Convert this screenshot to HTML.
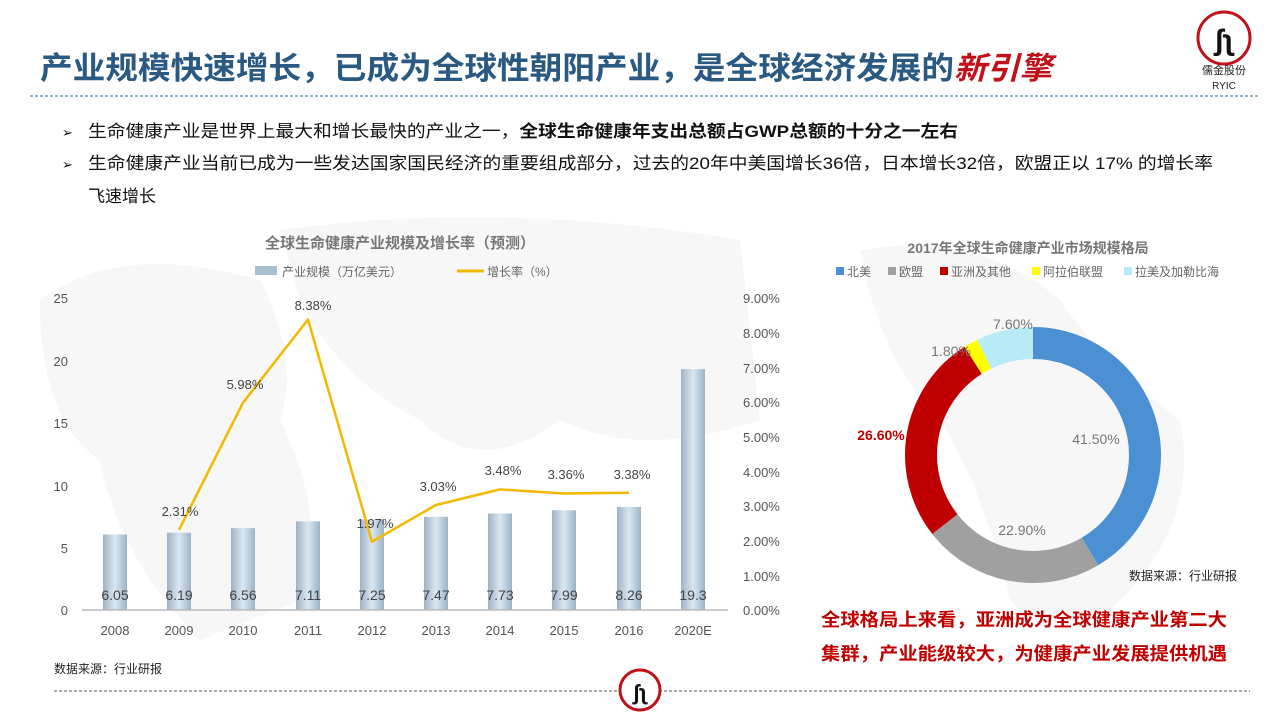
<!DOCTYPE html>
<html><head><meta charset="utf-8"><style>
body{margin:0;background:#fff;}
svg{display:block;font-family:"Liberation Sans","Noto Sans CJK SC",sans-serif;}
</style></head><body>
<svg width="1280" height="720" viewBox="0 0 1280 720">
<g fill="#f7f7f7">
<path d="M40 300 Q120 240 260 280 Q300 360 280 420 Q330 520 300 600 L200 640 Q120 560 100 460 Q40 420 40 300Z"/>
<path d="M280 230 Q500 200 740 240 L760 420 Q640 460 560 420 Q480 480 420 420 Q340 380 300 300Z"/>
<path d="M860 250 Q980 230 1060 300 Q1100 360 1180 420 Q1200 520 1120 600 Q1060 660 1010 600 Q980 480 940 420 Q880 360 860 250Z"/>
</g>
<text x="40" y="79" font-size="31" font-weight="bold" fill="#2a5a82" textLength="1012" lengthAdjust="spacingAndGlyphs">产业规模快速增长，已成为全球性朝阳产业，是全球经济发展的<tspan fill="#c0101a" font-style="italic">新引擎</tspan></text>
<line x1="30" y1="96" x2="1258" y2="96" stroke="#5a8aa8" stroke-width="1.2" stroke-dasharray="3,2"/>
<circle cx="1224" cy="38" r="26" fill="none" stroke="#c0101a" stroke-width="3"/>
<text x="1224" y="50" font-size="30" text-anchor="middle" fill="#111" font-weight="bold">ʃʅ</text>
<text x="1224" y="74" font-size="11" text-anchor="middle" fill="#222">儒金股份</text>
<text x="1224" y="89" font-size="10" text-anchor="middle" fill="#222">RYIC</text>
<g font-size="17" fill="#111">
<text x="62" y="137" font-size="13">➢</text>
<text x="88" y="137" textLength="870" lengthAdjust="spacingAndGlyphs">生命健康产业是世界上最大和增长最快的产业之一，<tspan font-weight="bold">全球生命健康年支出总额占GWP总额的十分之一左右</tspan></text>
<text x="62" y="169" font-size="13">➢</text>
<text x="88" y="169" textLength="1125" lengthAdjust="spacingAndGlyphs">生命健康产业当前已成为一些发达国家国民经济的重要组成部分，过去的20年中美国增长36倍，日本增长32倍，欧盟正以 17% 的增长率</text>
<text x="88" y="202">飞速增长</text>
</g>
<text x="400" y="248" font-size="15" font-weight="bold" fill="#777" text-anchor="middle">全球生命健康产业规模及增长率（预测）</text>
<rect x="255" y="266" width="22" height="9" fill="#a9bfd1"/>
<text x="282" y="276" font-size="12" fill="#666">产业规模（万亿美元）</text>
<line x1="457" y1="271" x2="484" y2="271" stroke="#f5b800" stroke-width="3"/>
<text x="487" y="276" font-size="12" fill="#666">增长率（%）</text>
<defs><linearGradient id="bg" x1="0" x2="1" y1="0" y2="0"><stop offset="0" stop-color="#9cb3c6"/><stop offset="0.5" stop-color="#dbe7f1"/><stop offset="1" stop-color="#9cb3c6"/></linearGradient></defs>
<g font-size="13" fill="#555">
<text x="68" y="303" text-anchor="end">25</text>
<text x="68" y="366" text-anchor="end">20</text>
<text x="68" y="428" text-anchor="end">15</text>
<text x="68" y="491" text-anchor="end">10</text>
<text x="68" y="553" text-anchor="end">5</text>
<text x="68" y="615" text-anchor="end">0</text>
<text x="743" y="303">9.00%</text><text x="743" y="338">8.00%</text><text x="743" y="373">7.00%</text><text x="743" y="407">6.00%</text><text x="743" y="442">5.00%</text><text x="743" y="477">4.00%</text><text x="743" y="511">3.00%</text><text x="743" y="546">2.00%</text><text x="743" y="581">1.00%</text><text x="743" y="615">0.00%</text>
</g>
<g fill="url(#bg)">
<rect x="103" y="534.5" width="24" height="75.5"/>
<rect x="167" y="532.7" width="24" height="77.3"/>
<rect x="231" y="528.1" width="24" height="81.9"/>
<rect x="296" y="521.3" width="24" height="88.7"/>
<rect x="360" y="519.5" width="24" height="90.5"/>
<rect x="424" y="516.8" width="24" height="93.2"/>
<rect x="488" y="513.5" width="24" height="96.5"/>
<rect x="552" y="510.3" width="24" height="99.7"/>
<rect x="617" y="506.9" width="24" height="103.1"/>
<rect x="681" y="369.1" width="24" height="240.9"/>
</g>
<line x1="82" y1="610" x2="728" y2="610" stroke="#bbb" stroke-width="1.5"/>
<g font-size="14" fill="#444" text-anchor="middle">
<text x="115" y="600">6.05</text><text x="179" y="600">6.19</text><text x="243" y="600">6.56</text><text x="308" y="600">7.11</text><text x="372" y="600">7.25</text><text x="436" y="600">7.47</text><text x="500" y="600">7.73</text><text x="564" y="600">7.99</text><text x="629" y="600">8.26</text><text x="693" y="600">19.3</text>
</g>
<g font-size="13" fill="#555" text-anchor="middle">
<text x="115" y="635">2008</text><text x="179" y="635">2009</text><text x="243" y="635">2010</text><text x="308" y="635">2011</text><text x="372" y="635">2012</text><text x="436" y="635">2013</text><text x="500" y="635">2014</text><text x="564" y="635">2015</text><text x="629" y="635">2016</text><text x="693" y="635">2020E</text>
</g>
<polyline points="179,529.9 243,402.7 308,319.5 372,541.7 436,505 500,489.4 564,493.5 629,492.8" fill="none" stroke="#f5b800" stroke-width="2.5" stroke-linejoin="round"/>
<g font-size="13" fill="#444" text-anchor="middle">
<text x="180" y="516">2.31%</text><text x="245" y="389">5.98%</text><text x="313" y="310">8.38%</text><text x="375" y="528">1.97%</text><text x="438" y="491">3.03%</text><text x="503" y="475">3.48%</text><text x="566" y="479">3.36%</text><text x="632" y="479">3.38%</text>
</g>
<text x="54" y="673" font-size="12" fill="#222">数据来源：行业研报</text>
<text x="1028" y="253" font-size="14" font-weight="bold" fill="#777" text-anchor="middle">2017年全球生命健康产业市场规模格局</text>
<g font-size="12" fill="#666">
<rect x="836" y="267" width="8" height="8" fill="#4a90d2"/><text x="847" y="276">北美</text>
<rect x="888" y="267" width="8" height="8" fill="#a0a0a0"/><text x="899" y="276">欧盟</text>
<rect x="940" y="267" width="8" height="8" fill="#c00000"/><text x="951" y="276">亚洲及其他</text>
<rect x="1032" y="267" width="8" height="8" fill="#ffff00"/><text x="1043" y="276">阿拉伯联盟</text>
<rect x="1124" y="267" width="8" height="8" fill="#b8eaf8"/><text x="1135" y="276">拉美及加勒比海</text>
</g>
<g transform="rotate(-90 1033 455)" fill="none" stroke-width="32">
<circle cx="1033" cy="455" r="112" stroke="#4a90d2" stroke-dasharray="292 412" stroke-dashoffset="0"/>
<circle cx="1033" cy="455" r="112" stroke="#a0a0a0" stroke-dasharray="161.1 543" stroke-dashoffset="-292"/>
<circle cx="1033" cy="455" r="112" stroke="#c00000" stroke-dasharray="187.2 517" stroke-dashoffset="-453.1"/>
<circle cx="1033" cy="455" r="112" stroke="#ffff00" stroke-dasharray="12.7 691" stroke-dashoffset="-640.3"/>
<circle cx="1033" cy="455" r="112" stroke="#b8eaf8" stroke-dasharray="51 653" stroke-dashoffset="-653"/>
</g>
<g font-size="14" fill="#777" text-anchor="middle">
<text x="1013" y="329">7.60%</text>
<text x="951" y="356">1.80%</text>
<text x="1096" y="444">41.50%</text>
<text x="1022" y="535">22.90%</text>
</g>
<text x="881" y="440" font-size="14" font-weight="bold" fill="#c00000" text-anchor="middle">26.60%</text>
<text x="1129" y="580" font-size="12" fill="#222">数据来源：行业研报</text>
<g font-size="18" font-weight="bold" fill="#c00000">
<text x="821" y="626" textLength="406" lengthAdjust="spacingAndGlyphs">全球格局上来看，亚洲成为全球健康产业第二大</text>
<text x="821" y="660" textLength="406" lengthAdjust="spacingAndGlyphs">集群，产业能级较大，为健康产业发展提供机遇</text>
</g>
<line x1="54" y1="691" x2="1250" y2="691" stroke="#555" stroke-width="1" stroke-dasharray="3,2"/>
<circle cx="640" cy="690" r="20" fill="#fff" stroke="#c0101a" stroke-width="3"/>
<text x="640" y="700" font-size="22" text-anchor="middle" fill="#111" font-weight="bold">ʃʅ</text>
</svg>
</body></html>
